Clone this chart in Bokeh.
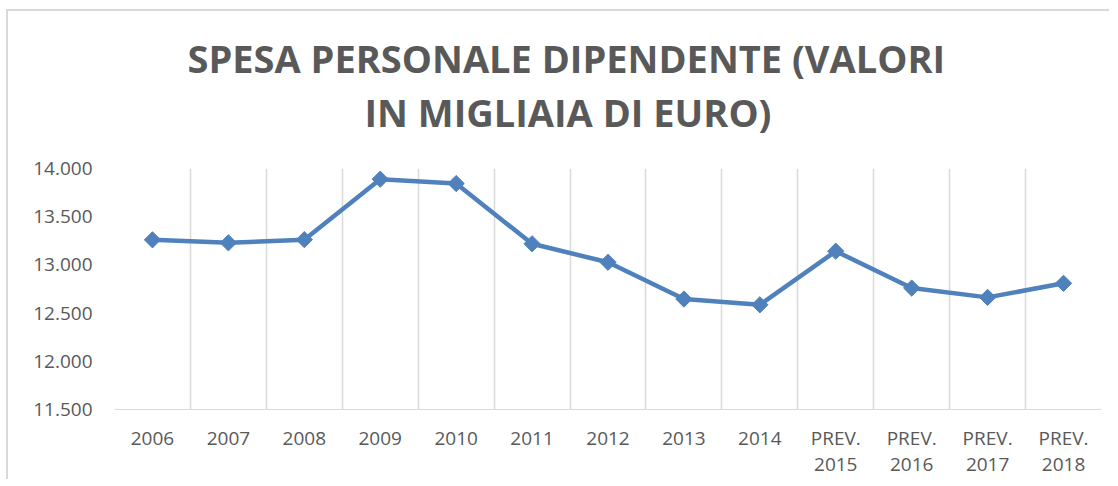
import math
from bokeh.plotting import figure
from bokeh.models import FactorRange, FixedTicker, Range1d, Title
from bokeh.embed import file_html
from bokeh.resources import INLINE

categories = ["2006", "2007", "2008", "2009", "2010", "2011", "2012", "2013", "2014",
              "PREV.\n2015", "PREV.\n2016", "PREV.\n2017", "PREV.\n2018"]
spesa = [13260, 13229, 13262, 13889, 13844, 13219, 13027, 12646, 12586,
         13142, 12760, 12663, 12809]
y_ticks = [11500, 12000, 12500, 13000, 13500, 14000]
y_tick_labels = ["11.500", "12.000", "12.500", "13.000", "13.500", "14.000"]
title_lines = ["SPESA PERSONALE DIPENDENTE (VALORI", "IN MIGLIAIA DI EURO)"]

TEXT = "#595959"
GRID = "#d9d9d9"
BLUE = "#4f81bd"

p = figure(x_range=FactorRange(*categories), y_range=Range1d(y_ticks[0], y_ticks[-1]),
           frame_width=987, frame_height=241, title=None,
           min_border_left=106, min_border_right=8, min_border_top=157, min_border_bottom=60,
           output_backend="svg", toolbar_location=None)
p.styles = {"border-top": "2px solid #d9d9d9", "border-left": "2px solid #d9d9d9",
            "margin-left": "6px", "margin-top": "9px"}
p.outline_line_color = None
p.background_fill_color = "white"

# x axis
p.xaxis.axis_line_color = GRID
p.xaxis.axis_line_width = 1
p.xaxis.major_tick_line_color = None
p.xaxis.minor_tick_line_color = None
p.xaxis.major_label_text_font = "Open Sans"
p.xaxis.major_label_text_font_size = "19px"
p.xaxis.major_label_text_color = TEXT
p.xaxis.major_label_text_line_height = 1.0
p.xaxis.major_label_standoff = 9

# y axis
p.yaxis.ticker = FixedTicker(ticks=y_ticks)
p.yaxis.major_label_overrides = dict(zip(y_ticks, y_tick_labels))
p.yaxis.axis_line_color = None
p.yaxis.major_tick_line_color = None
p.yaxis.minor_tick_line_color = None
p.yaxis.major_label_text_font = "Open Sans"
p.yaxis.major_label_text_font_size = "19px"
p.yaxis.major_label_text_color = TEXT
p.yaxis.major_label_standoff = 16

# grids: vertical lines between categories
p.ygrid.visible = False
p.xgrid.ticker = FixedTicker(ticks=list(range(len(categories) + 1)))
p.xgrid.grid_line_color = GRID
p.xgrid.grid_line_width = 1.5

p.line(categories, spesa, line_width=4.5, color=BLUE)
p.scatter(categories, spesa, marker="square", angle=math.pi / 4, size=11.5, color=BLUE)

# spacer between plot and title, then the two title lines
p.add_layout(Title(text=" ", text_font_size="10px", standoff=18), "above")
for t, off in [(title_lines[1], 250), (title_lines[0], 73)]:
    p.add_layout(Title(text=t, align="left", offset=off, standoff=0,
                       text_font="Open Sans", text_font_size="38px",
                       text_font_style="bold", text_color=TEXT), "above")

open("out.html", "w").write(file_html(p, INLINE))
